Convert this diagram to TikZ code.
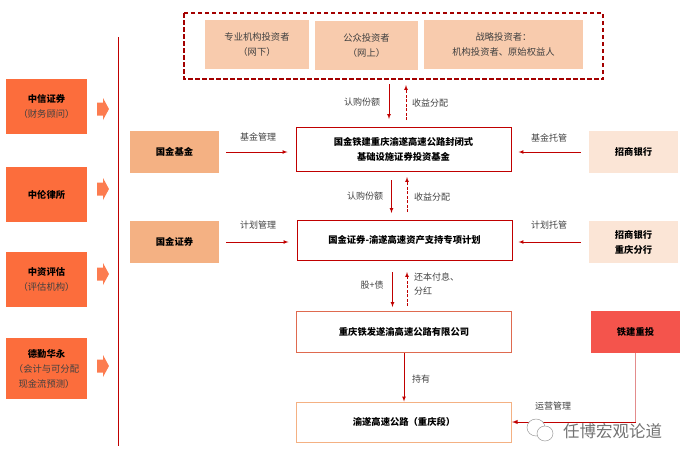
\documentclass[tikz,border=0pt]{standalone}
\usepackage{fontspec}
\setmainfont{Noto Sans CJK SC}
\definecolor{darkred}{HTML}{C00000}
\definecolor{leftbox}{HTML}{FC6D3C}
\definecolor{midbox}{HTML}{F4B183}
\definecolor{paleinv}{HTML}{F8CBAD}
\definecolor{palebank}{HTML}{FBE5D6}
\definecolor{redbox}{HTML}{F4544C}
\definecolor{greytext}{HTML}{404040}
\tikzset{
    box/.style={inner sep=0pt, align=center, font=\fontsize{9.3}{15}\selectfont},
    leftfirm/.style={box, fill=leftbox, minimum width=81pt},
    sidefirm/.style={box, minimum width=89pt, minimum height=42pt},
    investor/.style={box, fill=paleinv, text=greytext, minimum height=49pt},
    mainbox/.style={box, fill=white, minimum width=215pt},
    flowline/.style={-latex, darkred, line width=0.7pt},
    backline/.style={-latex, darkred, line width=0.7pt, dash pattern=on 3pt off 1.5pt},
    lab/.style={inner sep=0pt, text=greytext, align=left, font=\fontsize{9}{14}\selectfont},
}
\begin{document}
\begin{tikzpicture}[x=1pt, y=-1pt]
    \useasboundingbox (0,0) rectangle (683,461);
    \draw[darkred, line width=1pt] (118,37) -- (118,446);
    % left column
    \node[leftfirm, minimum height=55pt] (citic) at (46.5,106.5) {\textbf{中信证券}\\\textcolor{greytext}{（财务顾问）}};
    \node[leftfirm, minimum height=55pt] (zhonglun) at (46.5,194.5) {\textbf{中伦律所}};
    \node[leftfirm, minimum height=55pt] (valuer) at (46.5,279.5) {\textbf{中资评估}\\\textcolor{greytext}{（评估机构）}};
    \node[leftfirm, minimum height=61pt] (deloitte) at (46.5,368.5) {\textbf{德勤华永}\\\textcolor{greytext}{（会计与可分配}\\\textcolor{greytext}{现金流预测）}};
    \foreach \y in {109,189,274,366}
        \fill[leftbox!90!white] (97,\y-6.5) -- (103,\y-6.5) -- (103,\y-11) -- (109,\y) -- (103,\y+11) -- (103,\y+6.5) -- (97,\y+6.5) -- cycle;
    % investors
    \draw[darkred!85!black, line width=1.5pt, dash pattern=on 4.5pt off 2.5pt] (184,13) rectangle (603,79);
    \node[investor, minimum width=104pt] (invnet) at (257,44.5) {专业机构投资者\\（网下）};
    \node[investor, minimum width=103pt] (invpub) at (366.5,45.5) {公众投资者\\（网上）};
    \node[investor, minimum width=159pt] (invstr) at (503.5,44.5) {战略投资者：\\机构投资者、原始权益人};
    % middle column
    \node[sidefirm, fill=midbox] (gjfund) at (174.5,152) {\textbf{国金基金}};
    \node[sidefirm, fill=midbox] (gjsec) at (174.5,242) {\textbf{国金证券}};
    \node[mainbox, draw=darkred, line width=1pt, minimum height=44pt] (fund) at (403.5,149) {\textbf{国金铁建重庆渝遂高速公路封闭式}\\\textbf{基础设施证券投资基金}};
    \node[mainbox, draw=darkred, line width=1pt, minimum height=40pt] (plan) at (404.5,240) {\textbf{国金证券-渝遂高速资产支持专项计划}};
    \node[mainbox, draw=midbox!60!darkred, line width=1pt, minimum height=41pt] (company) at (404,331.5) {\textbf{重庆铁发遂渝高速公路有限公司}};
    \node[mainbox, draw=midbox, line width=1pt, minimum height=40pt] (road) at (404,422) {\textbf{渝遂高速公路（重庆段）}};
    % right column
    \node[sidefirm, fill=palebank] (cmb) at (633.5,152) {\textbf{招商银行}};
    \node[sidefirm, fill=palebank] (cmbcq) at (633.5,242) {\textbf{招商银行}\\\textbf{重庆分行}};
    \node[sidefirm, fill=redbox] (crcc) at (635.5,332) {\textbf{铁建重投}};
    % connectors
    \coordinate (subtop) at (389,84);
    \coordinate (subbot) at (389,119);
    \coordinate (rettop) at (406,85);
    \coordinate (retbot) at (406,120);
    \coordinate (subtopb) at (391.5,180);
    \coordinate (subbotb) at (391.5,213);
    \coordinate (rettopb) at (407,177);
    \coordinate (retbotb) at (407,212);
    \coordinate (eqtop) at (392.5,272);
    \coordinate (eqbot) at (392.5,307);
    \coordinate (paytop) at (407,272);
    \coordinate (paybot) at (407,306);
    \coordinate (opcorner) at (crcc.south |- road.east);
    \draw[flowline] (subtop) -- (subbot);
    \draw[backline] (retbot) -- (rettop);
    \draw[flowline] (subtopb) -- (subbotb);
    \draw[backline] (retbotb) -- (rettopb);
    \draw[flowline] (eqtop) -- (eqbot);
    \draw[backline] (paybot) -- (paytop);
    \draw[flowline, shorten <=7pt, shorten >=8pt] (gjfund.east) -- (gjfund.east -| fund.west);
    \draw[flowline, shorten <=7pt, shorten >=8pt] (gjsec.east) -- (gjsec.east -| plan.west);
    \draw[flowline, shorten <=8pt, shorten >=7pt] (cmb.west) -- (cmb.west -| fund.east);
    \draw[flowline, shorten <=8pt, shorten >=6pt] (cmbcq.west) -- (cmbcq.west -| plan.east);
    \draw[flowline] (company.south) -- (road.north);
    \draw[darkred!45!white, line width=1pt] (crcc.south) -- (opcorner);
    \draw[flowline, line width=0.9pt] (opcorner) -- (road.east);
    % labels
    \node[lab] (labsub) at (362,102) {认购份额};
    \node[lab] (labret) at (430,103) {收益分配};
    \node[lab] (labsubb) at (365,196) {认购份额};
    \node[lab] (labretb) at (432,197) {收益分配};
    \node[lab] (labeq) at (372,285) {股+债};
    \node[lab, anchor=north west] (labpay) at (414,273) {还本付息、\\分红};
    \node[lab] (labhold) at (421,379) {持有};
    \node[lab] (labop) at (553,406) {运营管理};
    \node[lab] (labfm) at (258,137) {基金管理};
    \node[lab] (labpm) at (258,225) {计划管理};
    \node[lab] (labfc) at (549,138) {基金托管};
    \node[lab] (labpc) at (549,225) {计划托管};
    % watermark
    \node[inner sep=0pt, text=black!55, font=\fontsize{16.5}{18}\selectfont] (mark) at (612.5,431) {任博宏观论道};
    \draw[black!40, fill=white, line width=0.5pt] (536,427.5) ellipse (9pt and 8.5pt);
    \draw[black!40, fill=white, line width=0.5pt] (545,433.5) ellipse (8pt and 7.5pt);
\end{tikzpicture}
\end{document}
